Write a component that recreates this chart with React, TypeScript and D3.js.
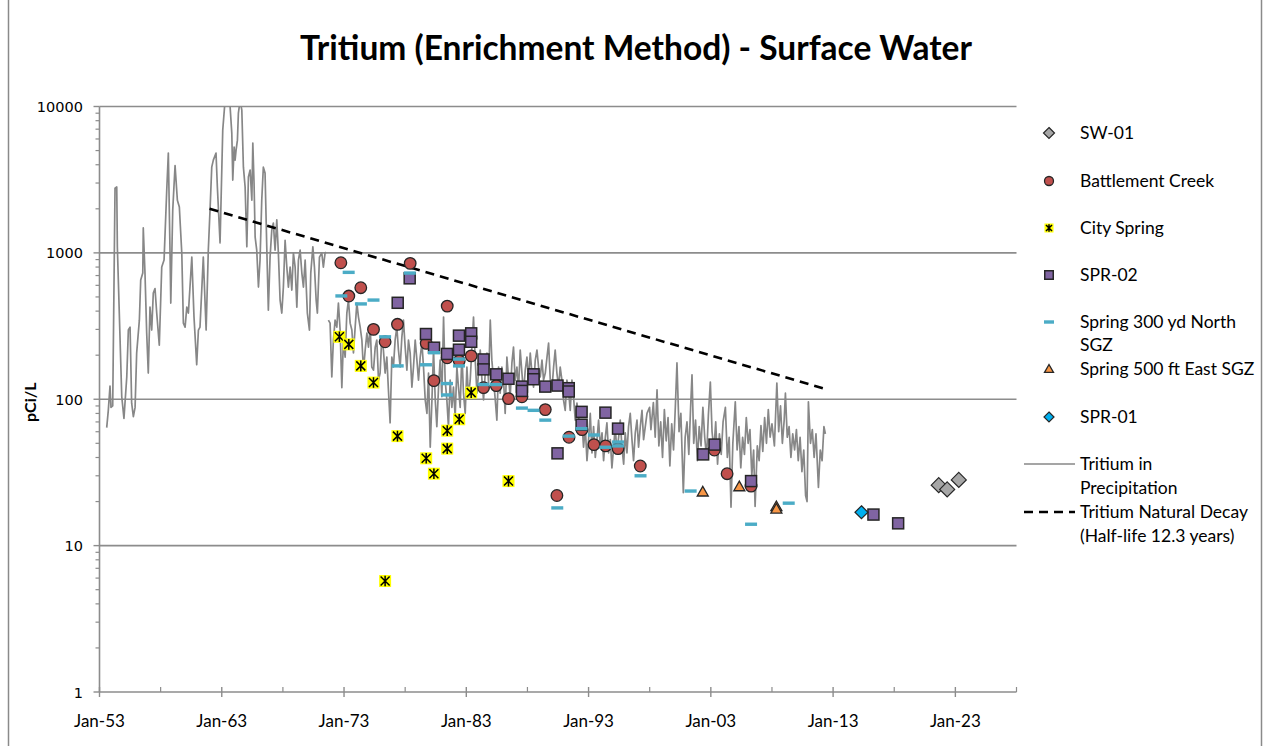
import React from 'react';
import * as d3 from 'd3';

const W = 1266;
const H = 746;
const plot = { left: 99.5, right: 1016.5, top: 106.5, bottom: 692 };

// axis ticks
const xMajorYears = [1953, 1963, 1973, 1983, 1993, 2003, 2013, 2023];
const xMajorLabels = ['Jan-53', 'Jan-63', 'Jan-73', 'Jan-83', 'Jan-93', 'Jan-03', 'Jan-13', 'Jan-23'];
const xMinorYears = [1958, 1968, 1978, 1988, 1998, 2008, 2018, 2028];
const yDecades = [1, 10, 100, 1000, 10000];
const yDecadeLabels = ['1', '10', '100', '1000', '10000'];

// sample data [decimal year, pCi/L]
const sw01: [number, number][] = [[2021.64, 25.9], [2022.33, 24.2], [2023.28, 28.1]];

const battlementCreek: [number, number][] = [
  [1972.74, 856], [1973.39, 507], [1974.37, 578], [1975.41, 300], [1976.36, 247], [1977.37, 325],
  [1978.41, 848], [1979.72, 241], [1980.35, 134], [1981.44, 433], [1981.44, 192], [1982.42, 183],
  [1983.4, 198], [1984.41, 120], [1985.45, 124], [1986.45, 101], [1987.55, 104], [1989.46, 85],
  [1990.41, 22], [1991.4, 55], [1992.46, 62], [1993.44, 49], [1994.39, 48], [1995.41, 46],
  [1997.23, 35], [2003.29, 45], [2004.33, 31], [2006.29, 25.5],
];

const citySpring: [number, number][] = [
  [1972.62, 267], [1973.39, 237], [1974.37, 169], [1975.41, 130], [1976.36, 5.73], [1977.37, 56],
  [1979.72, 39.5], [1980.35, 31], [1981.44, 61], [1981.44, 46], [1982.42, 73], [1983.4, 111],
  [1986.45, 27.6],
];

const spr02: [number, number][] = [
  [1977.39, 456], [1978.37, 670], [1979.7, 279], [1980.36, 225], [1981.42, 204], [1982.4, 272],
  [1982.4, 218], [1983.4, 282], [1983.4, 247], [1984.41, 187], [1984.41, 160], [1985.45, 148],
  [1986.45, 138], [1987.55, 122], [1987.55, 114], [1988.5, 148], [1988.5, 137], [1989.46, 122],
  [1990.46, 124], [1990.46, 42.7], [1991.38, 119], [1991.38, 113], [1992.43, 82], [1992.43, 67],
  [1994.38, 81], [1995.41, 63], [2002.37, 42], [2003.3, 49], [2006.29, 27.6], [2016.3, 16.3],
  [2018.32, 14.2],
];

const spring300North: [number, number][] = [
  [1972.78, 508], [1973.38, 736], [1974.38, 448], [1975.41, 476], [1976.36, 267], [1977.39, 169],
  [1978.38, 728], [1979.7, 172], [1980.36, 208], [1981.42, 128], [1981.42, 107], [1982.4, 188],
  [1982.4, 169], [1984.41, 126], [1985.43, 126], [1987.55, 87], [1988.5, 84], [1989.46, 72],
  [1990.44, 18.1], [1991.38, 56], [1992.42, 63], [1993.43, 57], [1994.38, 47], [1995.41, 51],
  [1995.41, 48], [1997.25, 30], [2001.35, 23.6], [2006.29, 14], [2009.37, 19.5],
];

const spring500East: [number, number][] = [[2002.34, 23.3], [2005.33, 25.3], [2008.36, 18.5], [2008.36, 17.8]];

const spr01: [number, number][] = [[2015.32, 16.9]];

// tritium in precipitation, two records with a short gap
const precipEarly: [number, number][] = [
  [1953.59, 64], [1953.72, 84], [1953.86, 123], [1953.94, 88], [1954.08, 90], [1954.27, 2770],
  [1954.41, 2820], [1954.46, 1100], [1954.82, 104], [1955.0, 74], [1955.23, 142], [1955.36, 297],
  [1955.5, 311], [1955.63, 94], [1955.77, 76], [1955.91, 88], [1956.04, 207], [1956.26, 347],
  [1956.37, 652], [1956.54, 728], [1956.58, 1480], [1956.72, 728], [1956.86, 283], [1956.99, 151],
  [1957.13, 426], [1957.27, 297], [1957.4, 531], [1957.54, 570], [1957.68, 388], [1957.89, 234],
  [1958.09, 800], [1958.28, 893], [1958.5, 2690], [1958.63, 4810], [1958.77, 998], [1958.83, 454],
  [1958.99, 1960], [1959.18, 3950], [1959.37, 2290], [1959.53, 2060], [1959.73, 998], [1959.86, 331],
  [1960.0, 311], [1960.14, 426], [1960.27, 388], [1960.55, 935], [1960.73, 364], [1960.95, 172],
  [1961.09, 297], [1961.22, 311], [1961.49, 935], [1961.72, 297], [1961.9, 1045], [1962.04, 1960],
  [1962.18, 3850], [1962.31, 4300], [1962.53, 4810], [1962.64, 2820], [1962.86, 1170], [1963.08, 6900],
  [1963.27, 11000], [1963.62, 12000], [1963.82, 6580], [1963.9, 3140], [1964.01, 5280], [1964.09, 4300],
  [1964.17, 5040], [1964.28, 5890], [1964.36, 9020], [1964.5, 11000], [1964.64, 9450], [1964.77, 3850],
  [1964.91, 2820], [1965.05, 1100], [1965.18, 3300], [1965.32, 3680], [1965.46, 2290], [1965.54, 5620],
  [1965.64, 3000], [1965.73, 1280], [1965.86, 1045], [1966.0, 584], [1966.13, 893], [1966.27, 2290],
  [1966.4, 3850], [1966.54, 3510], [1966.68, 1100], [1966.81, 406], [1966.95, 935], [1967.09, 1430],
  [1967.22, 1600], [1967.36, 1045], [1967.5, 1680], [1967.63, 998], [1967.77, 476], [1967.91, 388],
  [1968.04, 584], [1968.18, 1220], [1968.32, 800], [1968.45, 584], [1968.59, 800], [1968.73, 557],
  [1968.86, 998], [1969.0, 800], [1969.14, 426], [1969.27, 893], [1969.41, 1045], [1969.55, 728],
  [1969.68, 584], [1969.82, 893], [1970.0, 388], [1970.17, 297], [1970.28, 728], [1970.45, 1100],
  [1970.58, 800], [1970.72, 476], [1970.82, 388], [1970.99, 935], [1971.18, 998], [1971.31, 800],
  [1971.45, 998], [1971.53, 1010],
];

const precipLate: [number, number][] = [
  [1971.72, 347], [1971.86, 331], [1972.0, 142], [1972.13, 254], [1972.27, 347], [1972.41, 311],
  [1972.54, 454], [1972.68, 297], [1972.82, 120], [1972.95, 254], [1973.09, 194], [1973.23, 388],
  [1973.36, 476], [1973.5, 331], [1973.64, 297], [1973.77, 207], [1973.91, 311], [1974.05, 454],
  [1974.18, 364], [1974.32, 311], [1974.46, 254], [1974.59, 158], [1974.73, 217], [1974.87, 283],
  [1975.0, 227], [1975.14, 311], [1975.27, 166], [1975.41, 158], [1975.55, 227], [1975.68, 254],
  [1975.82, 135], [1975.95, 151], [1976.09, 266], [1976.22, 217], [1976.36, 151], [1976.5, 194],
  [1976.63, 116], [1976.77, 69], [1976.91, 194], [1977.04, 166], [1977.18, 254], [1977.32, 311],
  [1977.45, 217], [1977.59, 166], [1977.73, 266], [1977.86, 347], [1978.0, 227], [1978.14, 158],
  [1978.27, 254], [1978.41, 207], [1978.55, 121], [1978.68, 166], [1978.82, 254], [1978.96, 185],
  [1979.09, 135], [1979.23, 194], [1979.37, 242], [1979.5, 166], [1979.64, 99], [1979.78, 80],
  [1979.91, 151], [1980.05, 47], [1980.19, 99], [1980.32, 217], [1980.46, 99], [1980.59, 65],
  [1980.73, 121], [1980.86, 185], [1981.0, 104], [1981.14, 364], [1981.27, 135], [1981.41, 99],
  [1981.54, 65], [1981.68, 135], [1981.82, 88], [1981.95, 121], [1982.09, 76], [1982.23, 166],
  [1982.36, 121], [1982.5, 88], [1982.64, 207], [1982.77, 110], [1982.91, 80], [1983.05, 166],
  [1983.18, 104], [1983.32, 135], [1983.46, 227], [1983.59, 364], [1983.73, 185], [1983.87, 110],
  [1984.0, 151], [1984.14, 217], [1984.28, 135], [1984.41, 99], [1984.55, 151], [1984.69, 207],
  [1984.82, 129], [1984.96, 347], [1985.09, 185], [1985.23, 135], [1985.37, 99], [1985.5, 72],
  [1985.64, 166], [1985.77, 110], [1985.91, 166], [1986.05, 135], [1986.18, 80], [1986.32, 194],
  [1986.45, 142], [1986.59, 104], [1986.73, 177], [1986.86, 227], [1987.0, 135], [1987.14, 166],
  [1987.27, 116], [1987.41, 217], [1987.55, 151], [1987.68, 110], [1987.82, 158], [1987.96, 194],
  [1988.09, 135], [1988.23, 207], [1988.37, 151], [1988.5, 121], [1988.64, 185], [1988.78, 217],
  [1988.91, 166], [1989.05, 142], [1989.19, 185], [1989.32, 135], [1989.46, 151], [1989.6, 194],
  [1989.73, 242], [1989.87, 135], [1990.0, 116], [1990.14, 166], [1990.27, 217], [1990.41, 151],
  [1990.55, 121], [1990.68, 166], [1990.82, 135], [1990.95, 99], [1991.09, 84], [1991.23, 135],
  [1991.36, 116], [1991.5, 84], [1991.64, 135], [1991.77, 104], [1991.91, 72], [1992.05, 94],
  [1992.18, 76], [1992.32, 59], [1992.46, 69], [1992.59, 47], [1992.73, 65], [1992.87, 38],
  [1993.0, 53], [1993.14, 80], [1993.28, 43], [1993.41, 65], [1993.55, 40], [1993.69, 53],
  [1993.82, 72], [1993.96, 47], [1994.1, 59], [1994.23, 38], [1994.37, 55], [1994.5, 69],
  [1994.64, 43], [1994.78, 53], [1994.91, 34], [1995.05, 47], [1995.18, 65], [1995.32, 43],
  [1995.46, 55], [1995.59, 72], [1995.73, 47], [1995.87, 36], [1996.0, 59], [1996.14, 43],
  [1996.27, 65], [1996.41, 80], [1996.55, 53], [1996.68, 38], [1996.82, 59], [1996.96, 72],
  [1997.09, 47], [1997.23, 65], [1997.37, 84], [1997.5, 53], [1997.78, 80], [1997.99, 88],
  [1998.1, 62], [1998.3, 95], [1998.45, 55], [1998.6, 116], [1998.75, 48], [1998.9, 70],
  [1999.05, 40], [1999.2, 85], [1999.35, 52], [1999.5, 75], [1999.65, 35], [1999.8, 68],
  [1999.95, 45], [2000.1, 90], [2000.23, 177], [2000.4, 60], [2000.55, 80], [2000.75, 23],
  [2000.9, 55], [2001.05, 70], [2001.2, 42], [2001.35, 90], [2001.46, 147], [2001.6, 50],
  [2001.75, 72], [2001.9, 38], [2002.05, 65], [2002.2, 48], [2002.35, 88], [2002.5, 55],
  [2002.65, 40], [2002.8, 78], [2002.96, 131], [2003.1, 60], [2003.25, 45], [2003.4, 70],
  [2003.55, 36], [2003.7, 58], [2003.85, 42], [2004.0, 70], [2004.19, 88], [2004.35, 40],
  [2004.5, 55], [2004.65, 18.3], [2004.8, 50], [2005.0, 96], [2005.15, 45], [2005.3, 65],
  [2005.45, 34], [2005.6, 55], [2005.75, 42], [2005.9, 75], [2006.05, 50], [2006.2, 62],
  [2006.35, 30], [2006.5, 45], [2006.62, 18.5], [2006.8, 48], [2006.95, 38], [2007.1, 66],
  [2007.25, 44], [2007.4, 75], [2007.55, 50], [2007.7, 85], [2007.85, 55], [2008.0, 68],
  [2008.2, 48], [2008.4, 129], [2008.55, 60], [2008.7, 90], [2008.85, 50], [2009.0, 72],
  [2009.1, 110], [2009.25, 55], [2009.4, 65], [2009.55, 40], [2009.7, 58], [2009.85, 45],
  [2010.0, 62], [2010.15, 38], [2010.3, 55], [2010.45, 32], [2010.6, 45], [2010.75, 22],
  [2010.87, 20], [2010.98, 96], [2011.15, 50], [2011.3, 62], [2011.45, 40], [2011.6, 58],
  [2011.8, 25], [2011.95, 45], [2012.1, 38], [2012.25, 65], [2012.37, 58],
];

// natural decay, straight on log axis (half-life 12.3 y)
const decay: [number, number][] = [[1962.0, 2000], [2012.3, 118]];

type Kind = 'sw01' | 'circle' | 'star' | 'square' | 'dash' | 'triangle' | 'spr01';

const seriesList: { name: string[]; kind: Kind; data: [number, number][] }[] = [
  { name: ['SW-01'], kind: 'sw01', data: sw01 },
  { name: ['Battlement Creek'], kind: 'circle', data: battlementCreek },
  { name: ['City Spring'], kind: 'star', data: citySpring },
  { name: ['SPR-02'], kind: 'square', data: spr02 },
  { name: ['Spring 300 yd North', 'SGZ'], kind: 'dash', data: spring300North },
  { name: ['Spring 500 ft East SGZ'], kind: 'triangle', data: spring500East },
  { name: ['SPR-01'], kind: 'spr01', data: spr01 },
];

const legendY = [133, 181, 228, 275, 322, 369, 417];
const FONT = 'Lato, "Open Sans", sans-serif';
const OUTLINE = '#262626';
const LEGEND_SIZE = 17.5;

function Marker({ kind, x, y, legend }: { kind: Kind; x: number; y: number; legend?: boolean }) {
  if (kind === 'circle') {
    const r = legend ? 4.5 : 5.8;
    return <circle cx={x} cy={y} r={r} fill="#C0504D" stroke={OUTLINE} strokeWidth={1.3} />;
  }
  if (kind === 'square') {
    const s = legend ? 8.5 : 11;
    return <rect x={x - s / 2} y={y - s / 2} width={s} height={s} fill="#8064A2" stroke={OUTLINE} strokeWidth={1.5} />;
  }
  if (kind === 'star') {
    const s = legend ? 9 : 12;
    const h = s / 2 - 1.5;
    return (
      <g>
        <rect x={x - s / 2} y={y - s / 2} width={s} height={s} fill="#FFFF00" />
        <path
          d={`M${x - h},${y - h}L${x + h},${y + h}M${x - h},${y + h}L${x + h},${y - h}M${x},${y - h - 0.8}L${x},${y + h + 0.8}`}
          stroke="#000"
          strokeWidth={1.5}
          fill="none"
        />
      </g>
    );
  }
  if (kind === 'dash') {
    const w = legend ? 10 : 12;
    return <rect x={x - w / 2} y={y - 1.7} width={w} height={3.4} fill="#4BACC6" />;
  }
  if (kind === 'triangle') {
    const s = legend ? 4.5 : 5.5;
    return (
      <path
        d={`M${x},${y - s}L${x + s},${y + s * 0.75}L${x - s},${y + s * 0.75}Z`}
        fill="#F79646"
        stroke={OUTLINE}
        strokeWidth={1.3}
      />
    );
  }
  const s = kind === 'sw01' ? (legend ? 5.5 : 7.5) : legend ? 5 : 6.5;
  const fill = kind === 'sw01' ? '#A6A6A6' : '#00B0F0';
  return (
    <path d={`M${x},${y - s}L${x + s},${y}L${x},${y + s}L${x - s},${y}Z`} fill={fill} stroke={OUTLINE} strokeWidth={1.2} />
  );
}

export default function App() {
  const x = d3.scaleLinear().domain([1953, 2028]).range([plot.left, plot.right]);
  const y = d3.scaleLog().domain([1, 10000]).range([plot.bottom, plot.top]);

  const line = d3
    .line<[number, number]>()
    .x((d) => x(d[0]))
    .y((d) => y(d[1]));

  const minorY: number[] = [];
  for (let d = 1; d < 10000; d *= 10) for (let k = 2; k <= 9; k++) minorY.push(d * k);

  const grid = '#8c8c8c';

  return (
    <div style={{ position: 'absolute', left: 0, top: 0 }}>
      <svg width={W} height={H} style={{ display: 'block', background: '#fff' }}>
        <defs>
          <clipPath id="plotClip">
            <rect x={plot.left} y={plot.top} width={plot.right - plot.left} height={plot.bottom - plot.top} />
          </clipPath>
        </defs>
        <rect x={8.5} y={-4} width={1253} height={H + 8} fill="none" stroke="#8a8a8a" strokeWidth={1.5} />

        <text x={636} y={60} textAnchor="middle" fontFamily={FONT} fontWeight="bold" fontSize={33.5} fill="#000">
          Tritium (Enrichment Method) - Surface Water
        </text>

        {/* gridlines */}
        {yDecades.slice(1).map((v) => (
          <line key={v} x1={plot.left} x2={plot.right} y1={y(v)} y2={y(v)} stroke={grid} strokeWidth={1.6} />
        ))}

        {/* y axis */}
        <line x1={plot.left} x2={plot.left} y1={plot.top} y2={plot.bottom} stroke={grid} strokeWidth={1.6} />
        {yDecades.map((v, i) => (
          <g key={v}>
            <line x1={plot.left - 6} x2={plot.left} y1={y(v)} y2={y(v)} stroke={grid} strokeWidth={1.4} />
            <text x={83} y={y(v) + 5.5} textAnchor="end" fontFamily='"DejaVu Sans", Verdana, sans-serif' fontSize={14.5} fill="#000">
              {yDecadeLabels[i]}
            </text>
          </g>
        ))}
        {minorY.map((v) => (
          <line key={v} x1={plot.left - 4} x2={plot.left} y1={y(v)} y2={y(v)} stroke={grid} strokeWidth={1.2} />
        ))}
        <text
          transform={`translate(36,${(plot.top + plot.bottom) / 2 + 3}) rotate(-90)`}
          textAnchor="middle"
          fontFamily={FONT}
          fontWeight="bold"
          fontSize={16}
          fill="#000"
        >
          pCi/L
        </text>

        {/* x axis */}
        <line x1={plot.left} x2={plot.right} y1={plot.bottom} y2={plot.bottom} stroke={grid} strokeWidth={1.6} />
        {xMajorYears.map((yr, i) => (
          <g key={yr}>
            <line x1={x(yr)} x2={x(yr)} y1={plot.bottom - 5} y2={plot.bottom + 5} stroke={grid} strokeWidth={1.4} />
            <text x={x(yr)} y={727} textAnchor="middle" fontFamily={FONT} fontSize={17} fill="#000">
              {xMajorLabels[i]}
            </text>
          </g>
        ))}
        {xMinorYears.map((yr) => (
          <line key={yr} x1={x(yr)} x2={x(yr)} y1={plot.bottom - 5} y2={plot.bottom} stroke={grid} strokeWidth={1.2} />
        ))}

        {/* precipitation + decay */}
        <g clipPath="url(#plotClip)">
          <path d={line(precipEarly) ?? ''} fill="none" stroke="#878787" strokeWidth={1.7} strokeLinejoin="round" />
          <path d={line(precipLate) ?? ''} fill="none" stroke="#878787" strokeWidth={1.7} strokeLinejoin="round" />
        </g>
        <path d={line(decay) ?? ''} fill="none" stroke="#000" strokeWidth={2.6} strokeDasharray="9 6" />

        {/* sample markers */}
        {seriesList.map((s) => (
          <g key={s.kind}>
            {s.data.map((d, i) => (
              <Marker key={i} kind={s.kind} x={x(d[0])} y={y(d[1])} />
            ))}
          </g>
        ))}

        {/* legend */}
        {seriesList.map((s, i) => (
          <g key={s.kind}>
            <Marker kind={s.kind} x={1049} y={legendY[i]} legend />
            {s.name.map((t, j) => (
              <text key={t} x={1080} y={legendY[i] + 6 + j * 23} fontFamily={FONT} fontSize={LEGEND_SIZE} fill="#000">
                {t}
              </text>
            ))}
          </g>
        ))}
        <line x1={1024} x2={1075} y1={464} y2={464} stroke="#878787" strokeWidth={1.7} />
        <text x={1080} y={470} fontFamily={FONT} fontSize={LEGEND_SIZE} fill="#000">Tritium in</text>
        <text x={1080} y={494} fontFamily={FONT} fontSize={LEGEND_SIZE} fill="#000">Precipitation</text>
        <line x1={1024} x2={1075} y1={512} y2={512} stroke="#000" strokeWidth={2.6} strokeDasharray="9 6" />
        <text x={1080} y={518} fontFamily={FONT} fontSize={LEGEND_SIZE} fill="#000">Tritium Natural Decay</text>
        <text x={1080} y={542} fontFamily={FONT} fontSize={LEGEND_SIZE} fill="#000">(Half-life 12.3 years)</text>
      </svg>
    </div>
  );
}
